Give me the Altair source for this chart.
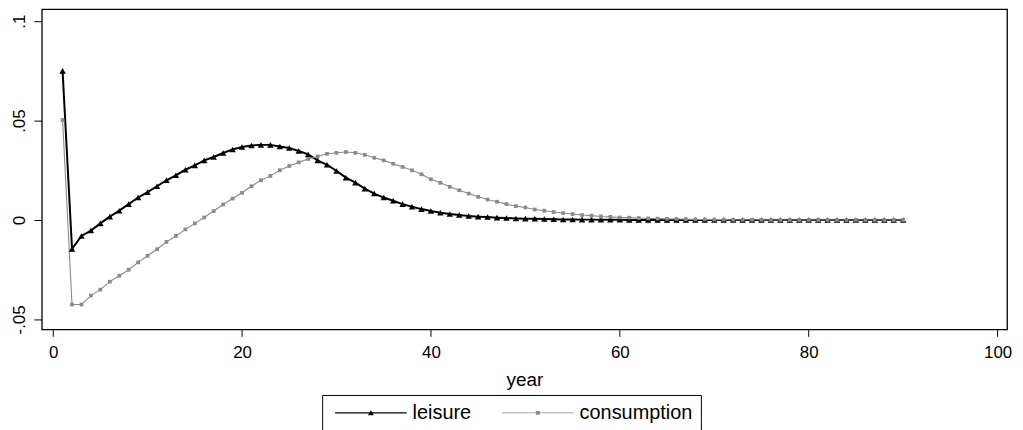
import altair as alt
import pandas as pd

YEARS = list(range(1, 91))
LEISURE = [
    0.075, -0.0145, -0.008, -0.0053, -0.0017, 0.0017, 0.0047, 0.008, 0.0113, 0.014,
    0.017, 0.020, 0.0225, 0.0253, 0.0275, 0.030, 0.0317, 0.0337, 0.0355, 0.0367,
    0.0375, 0.0378, 0.0378, 0.037, 0.0362, 0.0347, 0.033, 0.030, 0.0278, 0.0247,
    0.0213, 0.0188, 0.0158, 0.0133, 0.0113, 0.0097, 0.008, 0.0067, 0.0055, 0.0045,
    0.0037, 0.003, 0.0025, 0.002, 0.0017, 0.0015, 0.0012, 0.001, 0.0008, 0.0007,
    0.0006, 0.0005, 0.0004, 0.0003, 0.0003, 0.0002, 0.0002, 0.0001, 0.0001, 0.0001,
    0, 0, 0, 0, 0, 0, 0, 0, 0, 0,
    0, 0, 0, 0, 0, 0, 0, 0, 0, 0,
    0, 0, 0, 0, 0, 0, 0, 0, 0, 0,
]
CONSUMPTION = [
    0.0503, -0.0425, -0.0425, -0.038, -0.035, -0.031, -0.028, -0.025, -0.0213, -0.018,
    -0.0147, -0.011, -0.008, -0.0047, -0.0017, 0.0013, 0.0045, 0.0078, 0.0108, 0.0137,
    0.017, 0.020, 0.0222, 0.025, 0.0272, 0.029, 0.0307, 0.032, 0.0333, 0.0338,
    0.0342, 0.0338, 0.0328, 0.0313, 0.030, 0.0283, 0.0267, 0.025, 0.023, 0.0205,
    0.0187, 0.0167, 0.015, 0.0133, 0.0117, 0.0103, 0.0092, 0.008, 0.007, 0.0063,
    0.0053, 0.0047, 0.004, 0.0035, 0.003, 0.0025, 0.0022, 0.0018, 0.0016, 0.0013,
    0.0012, 0.001, 0.0008, 0.0007, 0.0006, 0.0005, 0.0004, 0.0003, 0.0003, 0.0002,
    0.0002, 0.0001, 0.0001, 0.0001, 0.0001, 0, 0, 0, 0, 0,
    0, 0, 0, 0, 0, 0, 0, 0, 0, 0,
]
SERIES = ["leisure", "consumption"]
X_TICKS = [0, 20, 40, 60, 80, 100]
Y_TICKS = [-0.05, 0, 0.05, 0.1]
Y_TICK_LABELS = ["-.05", "0", ".05", ".1"]

COLORS = ["#000000", "#8a8a8a"]
MARK_SHAPES = ["triangle-up", "square"]
LEGEND_PATHS = [
    "M-7.2,-0.12H7.2V0.12H-7.2Z M-0.6,0.5L0,-0.55L0.6,0.5Z",
    "M-7.2,-0.1H7.2V0.1H-7.2Z M-0.4,-0.4H0.4V0.4H-0.4Z",
]

rows = []
for i, yr in enumerate(YEARS):
    rows.append({"year": yr, "series": SERIES[0], "value": LEISURE[i]})
    rows.append({"year": yr, "series": SERIES[1], "value": CONSUMPTION[i]})
df = pd.DataFrame(rows)

FONT = "Liberation Sans"
label_expr = " : ".join(
    f"abs(datum.value - ({v})) < 1e-9 ? '{l}'" for v, l in zip(Y_TICKS, Y_TICK_LABELS)
) + " : ''"

x_enc = alt.X(
    "year:Q",
    scale=alt.Scale(domain=[-1.2, 101], nice=False, zero=False),
    axis=alt.Axis(values=X_TICKS, title="year", grid=False, domain=False,
                  tickSize=7, tickColor="black", labelColor="black",
                  labelFontSize=17, labelPadding=8, titleFontSize=19,
                  titleFontWeight="normal", titleColor="black", titlePadding=10,
                  labelFont=FONT, titleFont=FONT),
)
y_enc = alt.Y(
    "value:Q",
    scale=alt.Scale(domain=[-0.055, 0.106], nice=False, zero=False),
    axis=alt.Axis(values=Y_TICKS, title=None, grid=False, domain=False,
                  tickSize=8, tickColor="black", labelColor="black",
                  labelFontSize=17, labelAngle=270, labelAlign="center",
                  labelBaseline="bottom", labelPadding=5, labelExpr=label_expr,
                  labelFont=FONT),
)
color_scale = alt.Scale(domain=SERIES, range=COLORS)

lines = alt.Chart(df).mark_line().encode(
    x=x_enc, y=y_enc,
    color=alt.Color("series:N", scale=color_scale, legend=None),
    strokeWidth=alt.StrokeWidth("series:N", scale=alt.Scale(domain=SERIES, range=[2.0, 1.1]), legend=None),
)
points = alt.Chart(df).mark_point(filled=True, opacity=1).encode(
    x=x_enc, y=y_enc,
    color=alt.Color("series:N", scale=color_scale, legend=None),
    shape=alt.Shape("series:N", scale=alt.Scale(domain=SERIES, range=MARK_SHAPES), legend=None),
    size=alt.Size("series:N", scale=alt.Scale(domain=SERIES, range=[42, 14]), legend=None),
)
legend_layer = alt.Chart(df).mark_point(filled=True, opacity=0).encode(
    x=x_enc, y=y_enc,
    color=alt.Color("series:N", scale=color_scale,
                    legend=alt.Legend(title=None)),
    shape=alt.Shape("series:N", scale=alt.Scale(domain=SERIES, range=LEGEND_PATHS),
                    legend=alt.Legend(title=None)),
)

chart = alt.layer(lines, points, legend_layer).resolve_scale(
    color="independent", shape="independent", size="independent", strokeWidth="independent"
).properties(
    width=971, height=322,
    autosize=alt.AutoSizeParams(type="none"),
    padding={"left": 34, "top": 0, "right": 8, "bottom": 110},
).configure_view(
    stroke="black", strokeWidth=1.3
).configure_legend(
    orient="none", legendX=282, legendY=388, direction="horizontal",
    strokeColor="black", padding=8, symbolSize=100, symbolOpacity=1,
    symbolStrokeWidth=0, labelFontSize=20, labelFont=FONT, labelColor="black",
    labelOffset=32, columnPadding=26, symbolOffset=31,
)

chart.save("out.html", embed_options={"renderer": "svg", "actions": False})
